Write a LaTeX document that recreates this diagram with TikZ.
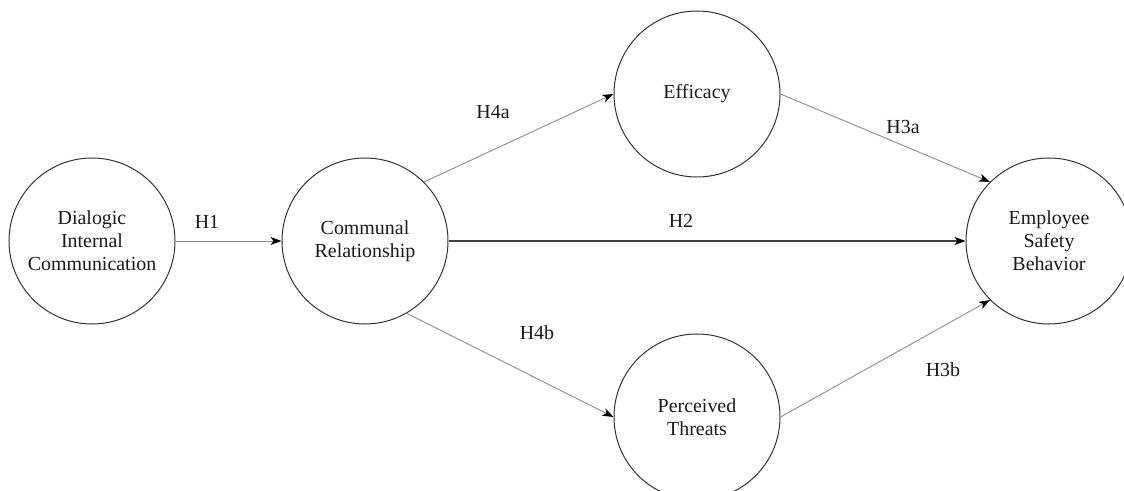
\documentclass[tikz,border=0pt]{standalone}
\usepackage{fontspec}
\setmainfont{Liberation Serif}
\usetikzlibrary{arrows.meta}
\begin{document}
\begin{tikzpicture}[x=1bp,y=-1bp,
  construct/.style={circle,draw=black!80,line width=1bp,minimum size=166bp,inner sep=0pt,
    align=center,font=\fontsize{20}{23}\selectfont,text=black!90},
  path/.style={draw=black!45,line width=0.9bp,-{Stealth[length=11bp,width=8bp,inset=3bp,black]}},
  mainpath/.style={draw=black!75,line width=1.3bp,-{Stealth[length=11bp,width=8bp,inset=3bp,black]}},
  lab/.style={font=\fontsize{20}{23}\selectfont,text=black!90,inner sep=0pt}]
\useasboundingbox (0,0) rectangle (1124,491);
\node[construct] (D) at (92,241) {Dialogic\\Internal\\Communication};
\node[construct] (C) at (365,241) {Communal\\Relationship};
\node[construct] (F) at (697,94) {Efficacy};
\node[construct] (P) at (697,417) {Perceived\\Threats};
\node[construct] (E) at (1049,241) {Employee\\Safety\\Behavior};
\draw[path] (D.east) -- (C.west);
\draw[path] (C.45) -- (F.west);
\draw[path] (C.-60) -- (P.west);
\draw[mainpath] (C.east) -- (E.west);
\draw[path] (F.east) -- (E.135);
\draw[path] (P.east) -- (E.-135);
\node[lab] (h1) at (207,222) {H1};
\node[lab] (h4a) at (493,112) {H4a};
\node[lab] (h4b) at (537,333) {H4b};
\node[lab] (h2) at (681,221) {H2};
\node[lab] (h3a) at (903,127) {H3a};
\node[lab] (h3b) at (943,370) {H3b};
\end{tikzpicture}
\end{document}
